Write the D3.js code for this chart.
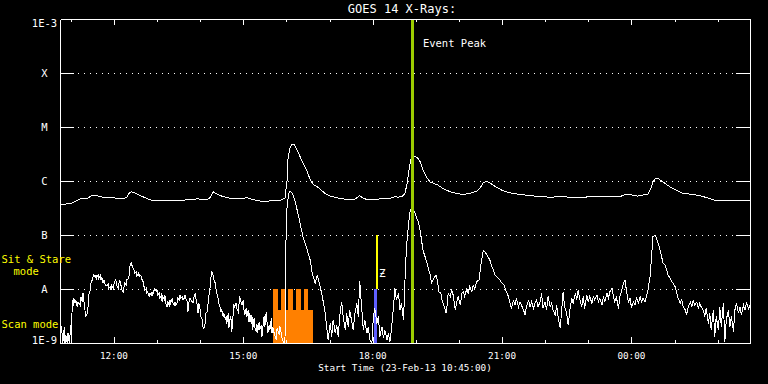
<!DOCTYPE html>
<html><head><meta charset="utf-8">
<script src="https://cdn.jsdelivr.net/npm/d3@7"></script>
<style>
html,body{margin:0;padding:0;background:#000;}
svg{display:block;background:#000;}
text{font-family:"DejaVu Sans Mono",monospace;fill:#fff;}
</style></head><body>
<svg id="chart" width="768" height="384"></svg>
<script>
// ---- data (time = minutes after 23-Feb-2013 10:45 UT, flux = log10 W/m^2) ----
const startUtc = Date.UTC(2013, 1, 23, 10, 45);
const spanMinutes = 960;
const title = "GOES 14 X-Rays:";
const xTitle = "Start Time (23-Feb-13 10:45:00)";
const yTickValues = [1e-9, 1e-8, 1e-7, 1e-6, 1e-5, 1e-4, 1e-3];
const yTickLabels = ["1E-9", "A", "B", "C", "M", "X", "1E-3"];
const classLevels = [1e-8, 1e-7, 1e-6, 1e-5, 1e-4];

const longChannel = [[0,-6.43],[6,-6.43],[16,-6.41],[21,-6.38],[28,-6.33],[38,-6.32],[46,-6.26],[51,-6.27],[56,-6.29],[65,-6.31],[74,-6.30],[79,-6.33],[88,-6.33],[93,-6.30],[97,-6.21],[100,-6.20],[107,-6.24],[115,-6.29],[125,-6.35],[135,-6.36],[149,-6.36],[163,-6.36],[177,-6.35],[191,-6.33],[205,-6.35],[209,-6.30],[213,-6.20],[218,-6.24],[227,-6.29],[237,-6.32],[250,-6.33],[260,-6.31],[267,-6.34],[274,-6.36],[282,-6.38],[292,-6.37],[306,-6.36],[313,-6.32],[316,-5.98],[317,-5.61],[320,-5.39],[323,-5.32],[326,-5.33],[330,-5.43],[334,-5.55],[338,-5.67],[344,-5.83],[348,-5.97],[352,-6.06],[358,-6.11],[362,-6.15],[366,-6.20],[371,-6.25],[376,-6.28],[385,-6.31],[394,-6.33],[403,-6.35],[410,-6.34],[417,-6.27],[422,-6.32],[429,-6.35],[435,-6.34],[449,-6.33],[459,-6.32],[466,-6.29],[470,-6.30],[476,-6.29],[480,-6.23],[483,-6.04],[486,-5.76],[488,-5.61],[491,-5.54],[497,-5.56],[501,-5.64],[505,-5.80],[511,-5.95],[515,-6.02],[525,-6.07],[533,-6.14],[543,-6.20],[552,-6.23],[561,-6.25],[570,-6.23],[580,-6.19],[584,-6.14],[589,-6.03],[594,-6.01],[598,-6.03],[602,-6.07],[608,-6.12],[616,-6.18],[626,-6.22],[640,-6.25],[654,-6.27],[668,-6.29],[682,-6.30],[696,-6.29],[710,-6.30],[723,-6.31],[737,-6.29],[751,-6.29],[779,-6.29],[786,-6.25],[793,-6.25],[803,-6.28],[811,-6.26],[818,-6.25],[822,-6.14],[825,-6.01],[829,-5.95],[833,-5.96],[839,-6.02],[849,-6.11],[858,-6.17],[867,-6.23],[881,-6.25],[890,-6.27],[900,-6.31],[909,-6.35],[918,-6.37],[936,-6.36],[946,-6.37],[960,-6.36]];

const shortChannel = [[0,-8.85],[2,-8.69],[4,-9.0],[6,-8.70],[7,-9.0],[8,-8.85],[10,-9.0],[11,-8.81],[13,-9.0],[15,-8.67],[16,-9.0],[17,-8.20],[18,-8.33],[19,-8.17],[21,-8.26],[22,-8.20],[24,-8.33],[25,-8.24],[28,-8.30],[29,-8.14],[31,-8.24],[32,-8.08],[33,-8.20],[35,-8.42],[36,-8.51],[38,-8.45],[39,-8.33],[40,-8.11],[42,-8.02],[43,-7.89],[45,-7.83],[46,-7.77],[47,-7.73],[49,-7.78],[50,-7.74],[51,-7.80],[53,-7.74],[54,-7.81],[56,-7.75],[57,-7.83],[58,-7.78],[60,-7.89],[61,-7.83],[63,-7.93],[65,-7.94],[67,-7.91],[68,-7.98],[70,-7.96],[71,-8.02],[72,-7.94],[74,-7.99],[75,-7.91],[77,-7.83],[78,-7.86],[79,-7.94],[81,-7.99],[82,-7.89],[83,-7.83],[85,-7.94],[86,-8.02],[88,-8.05],[89,-7.96],[90,-7.89],[92,-7.93],[93,-7.83],[95,-7.81],[96,-7.77],[97,-7.59],[99,-7.51],[100,-7.56],[102,-7.62],[103,-7.65],[104,-7.71],[106,-7.68],[107,-7.77],[109,-7.71],[110,-7.77],[111,-7.73],[113,-7.77],[114,-7.83],[115,-7.83],[117,-7.96],[118,-8.02],[120,-7.99],[121,-8.08],[122,-8.05],[124,-8.14],[125,-8.08],[127,-8.11],[128,-8.05],[129,-8.11],[131,-8.02],[132,-7.99],[134,-8.05],[135,-8.02],[136,-8.11],[138,-8.08],[139,-8.17],[141,-8.11],[142,-8.24],[143,-8.14],[145,-8.20],[146,-8.11],[147,-8.26],[149,-8.33],[150,-8.24],[152,-8.30],[153,-8.20],[154,-8.26],[156,-8.17],[157,-8.26],[159,-8.30],[160,-8.24],[161,-8.30],[163,-8.26],[164,-8.17],[166,-8.20],[167,-8.11],[168,-8.17],[170,-8.14],[171,-8.20],[173,-8.17],[174,-8.11],[175,-8.17],[177,-8.24],[178,-8.42],[179,-8.26],[181,-8.17],[182,-8.20],[184,-8.24],[185,-8.26],[186,-8.17],[188,-8.08],[189,-8.17],[191,-8.30],[192,-8.45],[193,-8.26],[195,-8.39],[196,-8.51],[198,-8.57],[199,-8.70],[200,-8.73],[202,-8.64],[203,-8.45],[205,-8.42],[206,-8.26],[207,-8.14],[209,-7.96],[210,-7.80],[211,-7.66],[213,-7.74],[214,-7.83],[216,-7.89],[217,-7.99],[218,-8.08],[220,-8.17],[221,-8.26],[223,-8.36],[224,-8.42],[225,-8.39],[227,-8.51],[228,-8.45],[230,-8.57],[231,-8.51],[232,-8.64],[234,-8.45],[235,-8.73],[237,-8.51],[238,-8.57],[239,-8.79],[241,-8.45],[242,-8.30],[243,-8.33],[245,-8.26],[246,-8.36],[248,-8.42],[250,-8.14],[253,-8.30],[255,-8.20],[256,-8.39],[257,-8.48],[259,-8.36],[260,-8.51],[262,-8.39],[263,-8.61],[264,-8.45],[266,-8.64],[267,-8.48],[268,-8.76],[270,-8.54],[271,-8.70],[273,-8.79],[274,-8.64],[275,-8.82],[277,-8.61],[278,-8.76],[280,-8.67],[281,-8.88],[282,-8.73],[284,-8.51],[285,-8.70],[287,-8.42],[288,-8.61],[289,-8.82],[291,-8.67],[292,-8.76],[294,-8.54],[295,-8.82],[296,-8.70],[298,-8.82],[301,-8.94],[302,-8.72],[305,-8.85],[306,-8.69],[309,-8.91],[311,-9.0],[313,-9.0],[314,-7.28],[316,-6.44],[319,-6.20],[320,-6.19],[323,-6.23],[326,-6.32],[330,-6.54],[334,-6.78],[338,-7.03],[344,-7.28],[348,-7.46],[351,-7.71],[355,-7.89],[358,-7.74],[362,-7.96],[365,-8.14],[369,-8.45],[371,-8.70],[373,-8.94],[376,-8.64],[378,-8.88],[380,-8.57],[383,-8.82],[385,-8.67],[387,-8.88],[390,-8.39],[392,-8.24],[394,-8.51],[397,-8.76],[399,-8.45],[401,-8.70],[403,-8.39],[406,-8.61],[408,-8.76],[410,-8.48],[413,-8.26],[415,-8.51],[417,-7.86],[420,-8.39],[422,-8.76],[424,-8.57],[427,-8.82],[429,-8.70],[431,-8.94],[434,-9.0],[436,-8.51],[438,-8.36],[441,-8.64],[443,-8.51],[445,-8.88],[448,-8.70],[450,-8.91],[452,-8.76],[455,-8.94],[457,-8.82],[459,-8.98],[461,-8.76],[464,-8.33],[466,-7.99],[468,-8.20],[471,-8.08],[473,-8.39],[475,-8.26],[478,-8.57],[480,-7.83],[482,-7.22],[485,-6.78],[487,-6.57],[490,-6.46],[494,-6.60],[499,-6.78],[501,-6.91],[505,-7.28],[510,-7.49],[512,-7.59],[515,-7.74],[517,-7.89],[519,-7.83],[523,-7.74],[525,-7.83],[527,-8.05],[530,-8.08],[532,-8.24],[535,-8.33],[537,-8.45],[539,-8.26],[540,-8.08],[543,-8.14],[545,-8.02],[547,-8.11],[550,-8.39],[552,-8.24],[554,-8.14],[557,-8.30],[559,-8.08],[561,-8.05],[563,-8.14],[566,-7.99],[568,-8.08],[570,-7.96],[573,-8.05],[575,-7.93],[577,-7.99],[580,-7.86],[583,-7.83],[586,-7.52],[589,-7.28],[591,-7.31],[594,-7.37],[598,-7.46],[601,-7.59],[603,-7.65],[605,-7.74],[610,-7.80],[615,-7.89],[618,-7.93],[621,-8.05],[624,-8.14],[626,-8.26],[628,-8.36],[631,-8.20],[633,-8.30],[635,-8.17],[638,-8.33],[640,-8.24],[642,-8.30],[645,-8.39],[647,-8.48],[649,-8.33],[652,-8.20],[654,-8.33],[656,-8.24],[659,-8.36],[661,-8.26],[663,-8.20],[665,-8.33],[668,-8.24],[670,-8.08],[672,-8.36],[675,-8.24],[677,-8.39],[679,-8.14],[682,-8.33],[684,-8.26],[686,-8.39],[689,-8.48],[691,-8.30],[693,-8.51],[696,-8.73],[698,-8.39],[700,-8.05],[702,-8.33],[705,-8.45],[707,-8.67],[710,-8.33],[712,-8.17],[714,-8.26],[717,-8.08],[719,-8.20],[721,-8.02],[723,-8.17],[726,-8.33],[728,-8.14],[730,-8.36],[733,-8.11],[735,-8.24],[737,-8.14],[740,-8.26],[742,-8.14],[744,-8.20],[747,-8.11],[749,-8.24],[751,-8.17],[754,-8.30],[756,-8.14],[758,-8.24],[761,-8.08],[763,-8.17],[765,-8.05],[768,-7.99],[770,-8.14],[772,-8.24],[774,-8.14],[777,-8.36],[779,-8.14],[781,-8.05],[784,-7.89],[786,-7.83],[788,-8.02],[791,-8.26],[793,-8.17],[795,-8.33],[798,-8.24],[800,-8.30],[802,-8.17],[805,-8.26],[807,-8.14],[809,-8.24],[811,-8.17],[814,-8.24],[816,-8.14],[818,-8.02],[821,-7.77],[823,-7.40],[825,-7.03],[828,-7.00],[830,-7.06],[832,-7.15],[835,-7.28],[837,-7.40],[839,-7.52],[842,-7.56],[844,-7.65],[846,-7.74],[849,-7.80],[851,-7.86],[853,-7.89],[856,-7.96],[858,-8.08],[860,-8.17],[863,-8.26],[865,-8.20],[867,-8.33],[870,-8.39],[872,-8.48],[874,-8.33],[877,-8.24],[879,-8.33],[881,-8.20],[883,-8.30],[886,-8.24],[888,-8.36],[890,-8.26],[892,-8.33],[895,-8.39],[897,-8.51],[899,-8.36],[902,-8.64],[904,-8.45],[906,-8.76],[909,-8.39],[911,-8.88],[913,-8.51],[916,-8.76],[918,-8.33],[920,-8.70],[923,-8.26],[925,-8.98],[927,-8.57],[930,-8.39],[932,-8.70],[934,-8.51],[937,-8.79],[939,-8.39],[941,-8.26],[944,-8.45],[946,-8.33],[948,-8.48],[951,-8.30],[953,-8.39],[955,-8.26],[958,-8.36],[960,-8.30]];

// observing mode periods (minutes) and their flux-level tops
const scanTeeth = [[296.8,302.9],[307.1,314.0],[317.6,324.6],[328.3,335.3],[339.5,345.5]];
const scanTeethTop = 1e-8;
const scanBlock = [[296.8,351.6]];
const scanBlockTop = 4.1e-9;
const sitStareBlue = [[436.9,440.6]];
const sitStareBlueTop = 1e-8;
const sitStareMarker = [441.5];
const sitStareMarkerRange = [1e-8, 1e-7];
const eventPeakMinute = 491;

// ---- drawing ----
const svg = d3.select("#chart");
const L = 60, R = 750, T = 19, B = 343;
const toDate = m => new Date(startUtc + m * 60000);
const x = d3.scaleUtc().domain([toDate(0), toDate(spanMinutes)]).range([L, R]);
const y = d3.scaleLog().domain([1e-9, 1e-3]).range([B, T]);

svg.append("defs").append("clipPath").attr("id", "plot")
  .append("rect").attr("x", L).attr("y", T).attr("width", R - L + 1).attr("height", B - T + 1);

// dotted grid at class levels
svg.append("g").selectAll("line").data(classLevels).join("line")
  .attr("x1", L).attr("x2", R)
  .attr("y1", d => Math.round(y(d)) + 0.5).attr("y2", d => Math.round(y(d)) + 0.5)
  .attr("stroke", "#fff").attr("stroke-width", 1).attr("stroke-dasharray", "1,5")
  .attr("shape-rendering", "crispEdges");

const marks = svg.append("g").attr("clip-path", "url(#plot)");

// orange scan mode bars
marks.selectAll("rect.block").data(scanBlock).join("rect").attr("class", "block")
  .attr("x", d => x(toDate(d[0]))).attr("width", d => x(toDate(d[1])) - x(toDate(d[0])))
  .attr("y", y(scanBlockTop)).attr("height", B + 1 - y(scanBlockTop))
  .attr("fill", "#ff8000").attr("shape-rendering", "crispEdges");
marks.selectAll("rect.tooth").data(scanTeeth).join("rect").attr("class", "tooth")
  .attr("x", d => x(toDate(d[0]))).attr("width", d => x(toDate(d[1])) - x(toDate(d[0])))
  .attr("y", y(scanTeethTop)).attr("height", B + 1 - y(scanTeethTop))
  .attr("fill", "#ff8000").attr("shape-rendering", "crispEdges");

// blue sit & stare bar
marks.selectAll("rect.blue").data(sitStareBlue).join("rect").attr("class", "blue")
  .attr("x", d => x(toDate(d[0]))).attr("width", d => x(toDate(d[1])) - x(toDate(d[0])))
  .attr("y", y(sitStareBlueTop)).attr("height", B + 1 - y(sitStareBlueTop))
  .attr("fill", "#6060ff").attr("shape-rendering", "crispEdges");

// yellow marker
marks.selectAll("line.ymark").data(sitStareMarker).join("line").attr("class", "ymark")
  .attr("x1", d => x(toDate(d))).attr("x2", d => x(toDate(d)))
  .attr("y1", y(sitStareMarkerRange[1])).attr("y2", y(sitStareMarkerRange[0]))
  .attr("stroke", "#ffff00").attr("stroke-width", 2).attr("shape-rendering", "crispEdges");
svg.append("text").attr("x", x(toDate(sitStareMarker[0])) + 5).attr("y", 277)
  .attr("text-anchor", "middle").attr("font-size", "11px").text("Ƶ");

// curves
const line = d3.line().x(d => x(toDate(d[0]))).y(d => y(Math.pow(10, d[1])));
[longChannel, shortChannel].forEach(data => {
  marks.append("path").datum(data).attr("d", line)
    .attr("fill", "none").attr("stroke", "#fff").attr("stroke-width", 1)
    .attr("shape-rendering", "crispEdges");
});

// event peak line
marks.append("line")
  .attr("x1", x(toDate(eventPeakMinute))).attr("x2", x(toDate(eventPeakMinute)))
  .attr("y1", T).attr("y2", B)
  .attr("stroke", "#9ccc00").attr("stroke-width", 3).attr("shape-rendering", "crispEdges");
svg.append("text").attr("x", x(toDate(eventPeakMinute)) + 10).attr("y", 47)
  .attr("font-size", "10.5px").text("Event Peak");

// axes
const hours = d3.utcHour.range(toDate(0), toDate(spanMinutes));
const major = hours.filter(d => d.getUTCHours() % 3 === 0);
const minor = hours.filter(d => d.getUTCHours() % 3 !== 0);
function styleAxis(g) {
  g.selectAll("path,line").attr("stroke", "#fff").attr("shape-rendering", "crispEdges");
  g.selectAll("text").remove();
}
svg.append("g").attr("transform", `translate(0,${B})`)
  .call(d3.axisBottom(x).tickValues(major).tickSize(-6).tickSizeOuter(0)).call(styleAxis);
svg.append("g").attr("transform", `translate(0,${B})`)
  .call(d3.axisBottom(x).tickValues(minor).tickSize(-3).tickSizeOuter(0)).call(styleAxis);
svg.append("g").attr("transform", `translate(0,${T})`)
  .call(d3.axisTop(x).tickValues(major).tickSize(-6).tickSizeOuter(0)).call(styleAxis);
svg.append("g").attr("transform", `translate(0,${T})`)
  .call(d3.axisTop(x).tickValues(minor).tickSize(-3).tickSizeOuter(0)).call(styleAxis);
svg.append("g").attr("transform", `translate(${L},0)`)
  .call(d3.axisLeft(y).tickValues(classLevels).tickSize(-14).tickSizeOuter(0)).call(styleAxis);
svg.append("g").attr("transform", `translate(${R},0)`)
  .call(d3.axisRight(y).tickValues(classLevels).tickSize(-14).tickSizeOuter(0)).call(styleAxis);

// x tick labels
const fmt = d3.utcFormat("%H:%M");
svg.append("g").selectAll("text").data(major).join("text")
  .attr("x", d => x(d)).attr("y", 358.5).attr("text-anchor", "middle")
  .attr("font-size", "9.3px").text(d => fmt(d));

// y labels
svg.append("g").selectAll("text").data(yTickValues).join("text")
  .attr("x", 44.5)
  .attr("y", (d, i) => i === 0 ? y(d) + 0.5 : (i === yTickValues.length - 1 ? y(d) + 7.7 : y(d) + 4.3))
  .attr("text-anchor", "middle").attr("font-size", "10.5px")
  .text((d, i) => yTickLabels[i]);

// titles
svg.append("text").attr("x", 402).attr("y", 13.3).attr("text-anchor", "middle")
  .attr("font-size", "12px").text(title);
svg.append("text").attr("x", 405).attr("y", 371).attr("text-anchor", "middle")
  .attr("font-size", "9.3px").text(xTitle);

// mode labels
svg.append("text").attr("x", 1.5).attr("y", 262.7).attr("font-size", "10.5px")
  .style("fill", "#ffff00").text("Sit & Stare");
svg.append("text").attr("x", 13.5).attr("y", 275).attr("font-size", "10.5px")
  .style("fill", "#ffff00").text("mode");
svg.append("text").attr("x", 1.5).attr("y", 328.3).attr("font-size", "10.5px")
  .style("fill", "#ffff00").text("Scan mode");
</script>
</body></html>
